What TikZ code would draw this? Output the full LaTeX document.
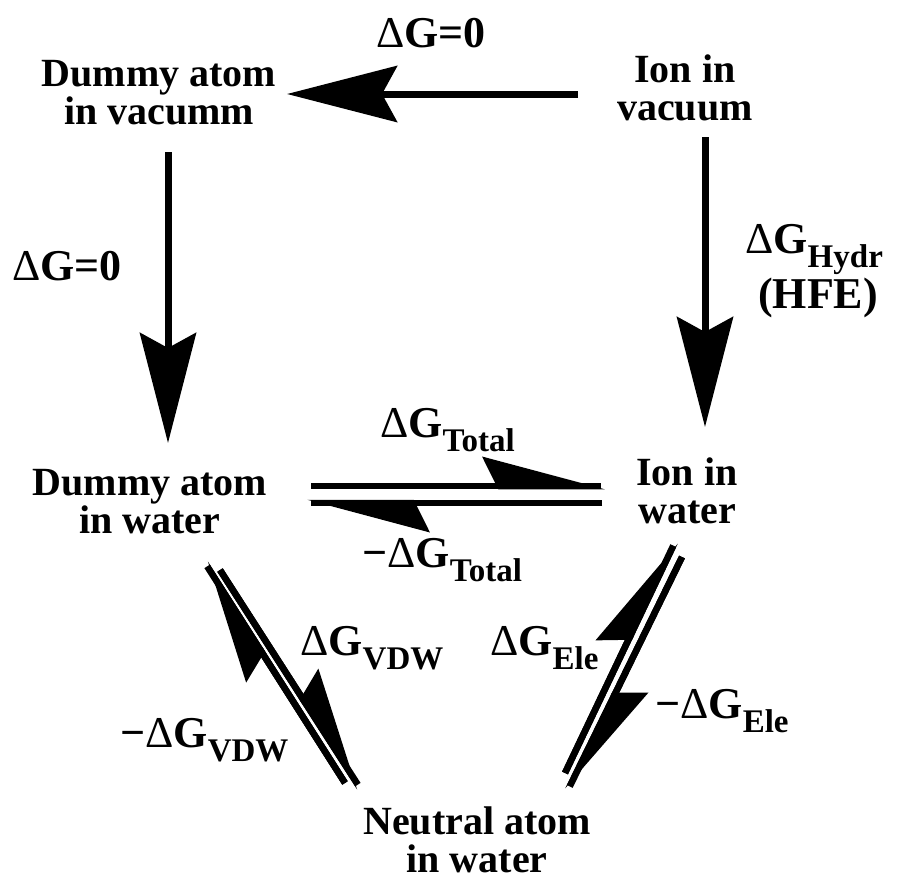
\documentclass[tikz,border=0pt]{standalone}
\usepackage{fontspec}
\setmainfont{Liberation Serif}
\usetikzlibrary{arrows.meta}
\newcommand{\dlt}{{\mdseries Δ}}
\newcommand{\sbs}[1]{\raisebox{-14pt}{\fontsize{33}{33}\selectfont #1}}
\begin{document}
\begin{tikzpicture}[x=1pt,y=-1pt,
  txt/.style={font=\bfseries\fontsize{40}{38}\selectfont, align=center, inner sep=0pt, anchor=base},
  lbl/.style={font=\bfseries\fontsize{44}{44}\selectfont, inner sep=0pt, anchor=base west},
  bigarrow/.style={line width=7pt, -{Stealth[length=110pt,width=56pt,inset=15pt]}},
  harpline/.style={line width=6.5pt, shorten >=4pt},
  harphead/.style={line width=6.5pt, -{Stealth[harpoon,length=110pt,width=58pt,inset=14pt]}}]
\useasboundingbox (0,0) rectangle (897,884);
% state nodes (anchor=base is the last line's baseline)
\node[txt] (dav) at (159,124) {Dummy atom\\in vacumm};
\node[txt] (iv) at (685,120) {Ion in\\vacuum};
\node[txt] (daw) at (150,533) {Dummy atom\\in water};
\node[txt] (iw) at (687,523) {Ion in\\water};
\node[txt] (nw) at (477,872) {Neutral atom\\in water};
% labels
\node[lbl] (ltop) at (376,47) {\dlt G=0};
\node[lbl] (lleft) at (12,280) {\dlt G=0};
\node[lbl] (lhydr) at (745,253) {\dlt G\sbs{Hydr}};
\node[lbl, anchor=base] (lhfe) at (818,308) {(HFE)};
\node[lbl] (ltot) at (380,437) {\dlt G\sbs{Total}};
\node[lbl] (lmtot) at (362,567) {−\dlt G\sbs{Total}};
\node[lbl] (lvdw) at (300,655) {\dlt G\sbs{VDW}};
\node[lbl] (lmvdw) at (120,747) {−\dlt G\sbs{VDW}};
\node[lbl] (lele) at (490,655) {\dlt G\sbs{Ele}};
\node[lbl] (lmele) at (655,718) {−\dlt G\sbs{Ele}};
% arrow end points
\coordinate (ta1) at (578,94);  \coordinate (ta2) at (287,94);
\coordinate (la1) at (168,152); \coordinate (la2) at (168,443);
\coordinate (ra1) at (705,137); \coordinate (ra2) at (705,427);
\coordinate (tu1) at (311,486); \coordinate (tu2) at (605,486);
\coordinate (tl1) at (602,503); \coordinate (tl2) at (307,503);
\coordinate (va1) at (220,570); \coordinate (va2) at (360,788);
\coordinate (vb1) at (345,783); \coordinate (vb2) at (205,563);
\coordinate (ea1) at (565,773); \coordinate (ea2) at (675,542);
\coordinate (eb1) at (682,557); \coordinate (eb2) at (568,790);
% big arrows
\draw[bigarrow] (ta1) -- (ta2);
\draw[bigarrow] (la1) -- (la2);
\draw[bigarrow] (ra1) -- (ra2);
% harpoons
\foreach \s/\e in {tu1/tu2, tl1/tl2, va1/va2, vb1/vb2, ea1/ea2, eb1/eb2}{
  \draw[harpline] (\s) -- (\e);
  \draw[harphead] (\s) -- (\e);
}
\end{tikzpicture}
\end{document}
